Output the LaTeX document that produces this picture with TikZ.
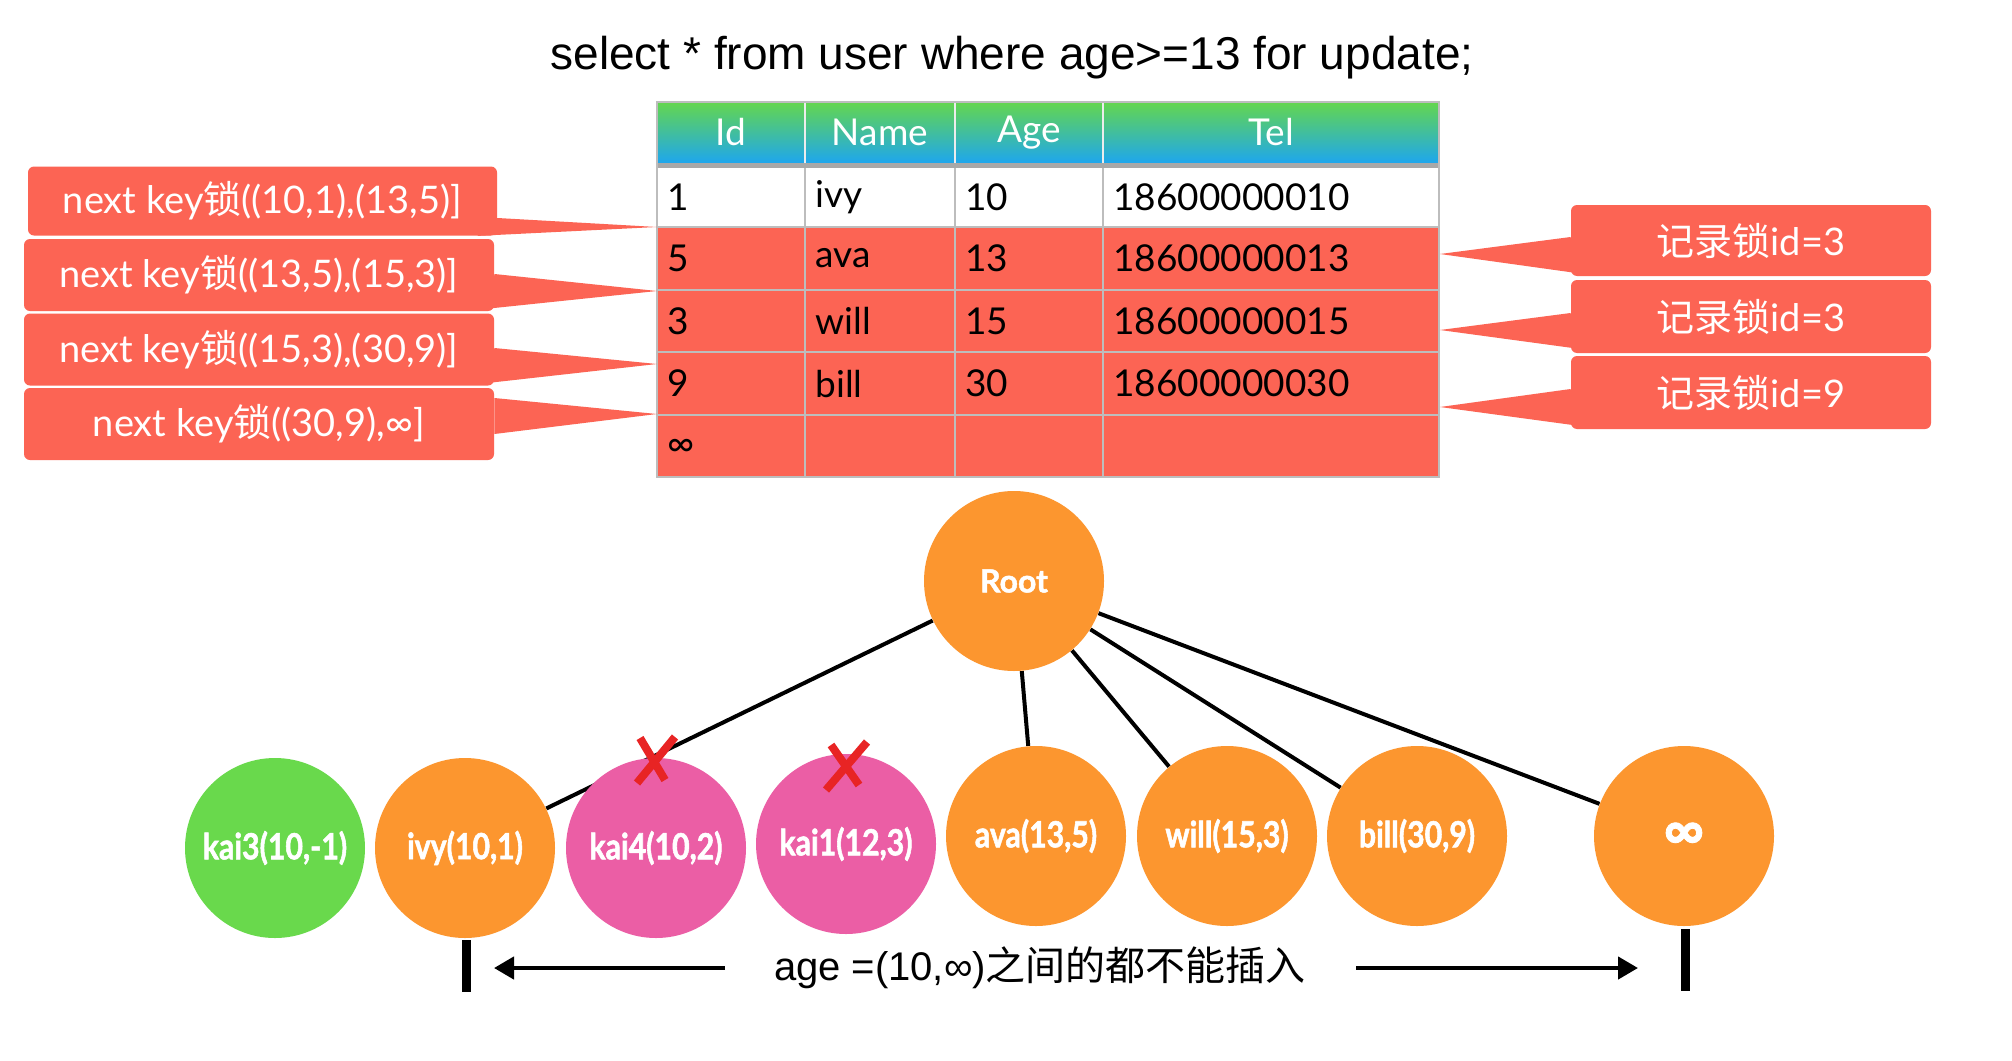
\documentclass[tikz,border=0pt]{standalone}
\usepackage{fontspec}
\usetikzlibrary{arrows.meta,calc}
\setmainfont{Lato}
\newfontfamily\lsans{Liberation Sans}
\newfontfamily\cjk{Noto Sans CJK SC}
\newfontfamily\condb{Lato}[FakeStretch=0.84, FakeBold=1.5]
\newfontfamily\heavyf{Lato}[FakeBold=1.5]
\definecolor{cred}{HTML}{FC6454}
\definecolor{hgreen}{HTML}{64D64E}
\definecolor{hblue}{HTML}{1EA6EE}
\definecolor{gridg}{HTML}{BDBDBD}
\definecolor{band}{HTML}{A8A8A8}
\definecolor{corange}{HTML}{FC962F}
\definecolor{cgreen}{HTML}{69D94C}
\definecolor{cpink}{HTML}{EB5EA5}
\definecolor{xred}{HTML}{E82424}
\pgfdeclarelayer{bg}
\pgfsetlayers{bg,main}
\tikzset{
  tcell/.style={anchor=west, inner sep=0pt, font=\fontsize{18.5pt}{20pt}\selectfont},
  thead/.style={inner sep=0pt, text=white, font=\fontsize{18.5pt}{20pt}\selectfont},
  calloutbox/.style={fill=cred, rounded corners=3pt, text=white, inner sep=0pt,
     font=\fontsize{19pt}{21pt}\selectfont},
  ball/.style={circle, minimum size=90pt, inner sep=0pt, text=white,
     font=\condb\bfseries\fontsize{18pt}{20pt}\selectfont},
  edgeline/.style={line width=2pt, black},
  xmark/.style={draw=xred, line width=4pt},
  barmark/.style={fill=black, inner sep=0pt, minimum width=4.5pt},
  arrowline/.style={line width=2.2pt, -{Triangle[length=10pt,width=11pt]}},
}
\begin{document}
\begin{tikzpicture}[x=0.5pt,y=-0.5pt]
\begin{pgfonlayer}{bg}
\fill[white] (0,0) rectangle (2012,1060);
\end{pgfonlayer}
\useasboundingbox (0,0) rectangle (2012,1060);

% title
\node[font=\lsans\fontsize{23pt}{26pt}\selectfont, inner sep=0pt] (title) at (1012,58)
  {select * from user where age>=13 for update;};

% ---- table ----
\shade[top color=hgreen, bottom color=hblue] (657,102) rectangle (1439,163);
\fill[band] (657,163) rectangle (1439,168);
\fill[white] (657,168) rectangle (1439,227);
\fill[cred] (657,227) rectangle (1439,477);
\foreach \x in {805,955,1103} {
  \draw[white!85!gray, line width=0.6pt] (\x,102) -- (\x,163);
  \draw[gridg, line width=0.8pt] (\x,168) -- (\x,477);
}
\foreach \y in {227,290,352,415} \draw[gridg, line width=0.8pt] (657,\y) -- (1439,\y);
\draw[gridg, line width=0.8pt] (657,102) rectangle (1439,477);

\node[thead] (hId) at (731,132.5) {Id};
\node[thead] (hName) at (880,132.5) {Name};
\node[thead] (hAge) at (1029,132.5) {Age};
\node[thead] (hTel) at (1271,132.5) {Tel};

\node[tcell] (c11) at (667,197.5) {1};
\node[tcell] (c12) at (815,197.5) {ivy};
\node[tcell] (c13) at (965,197.5) {10};
\node[tcell] (c14) at (1113,197.5) {18600000010};
\node[tcell] (c21) at (667,258.5) {5};
\node[tcell] (c22) at (815,258.5) {ava};
\node[tcell] (c23) at (965,258.5) {13};
\node[tcell] (c24) at (1113,258.5) {18600000013};
\node[tcell] (c31) at (667,321) {3};
\node[tcell] (c32) at (815,321) {will};
\node[tcell] (c33) at (965,321) {15};
\node[tcell] (c34) at (1113,321) {18600000015};
\node[tcell] (c41) at (667,383.5) {9};
\node[tcell] (c42) at (815,383.5) {bill};
\node[tcell] (c43) at (965,383.5) {30};
\node[tcell] (c44) at (1113,383.5) {18600000030};
\node[tcell] (c51) at (667,448) {∞};

% ---- left callouts ----
\node[calloutbox, minimum width=234.5pt, minimum height=34.5pt] (L1) at (262.5,201)
  {next key{\cjk 锁}((10,1),(13,5)]};
\node[calloutbox, minimum width=235pt, minimum height=36pt] (L2) at (259,275)
  {next key{\cjk 锁}((13,5),(15,3)]};
\node[calloutbox, minimum width=235pt, minimum height=36pt] (L3) at (259,349.5)
  {next key{\cjk 锁}((15,3),(30,9)]};
\node[calloutbox, minimum width=235pt, minimum height=36pt] (L4) at (259,424)
  {next key{\cjk 锁}((30,9),∞]};
\coordinate (tL1) at (657,227);
\coordinate (tL2) at (657,291);
\coordinate (tL3) at (657,364);
\coordinate (tL4) at (657,414);
\fill[cred] ($(L1.east)+(0,17)$) -- (tL1) -- ($(L1.south east)+(-20,0)$) -- cycle;
\fill[cred] ($(L2.east)+(0,-1)$) -- (tL2) -- ($(L2.south east)+(-4,-3)$) -- cycle;
\fill[cred] ($(L3.east)+(0,-1.5)$) -- (tL3) -- ($(L3.south east)+(-6,-3)$) -- cycle;
\fill[cred] ($(L4.east)+(0,-26)$) -- (tL4) -- ($(L4.east)+(0,10)$) -- cycle;

% ---- right callouts ----
\node[calloutbox, minimum width=180pt, minimum height=35.5pt] (R1) at (1751,240.5)
  {{\cjk 记录锁}id=3};
\node[calloutbox, minimum width=180pt, minimum height=36.5pt] (R2) at (1751,316.5)
  {{\cjk 记录锁}id=3};
\node[calloutbox, minimum width=180pt, minimum height=36.5pt] (R3) at (1751,392.5)
  {{\cjk 记录锁}id=9};
\coordinate (tR1) at (1440,254);
\coordinate (tR2) at (1440,330);
\coordinate (tR3) at (1440,407);
\fill[cred] ($(R1.west)+(0,-3.5)$) -- (tR1) -- ($(R1.south west)+(5,-3.5)$) -- cycle;
\fill[cred] ($(R2.west)+(0,-3.5)$) -- (tR2) -- ($(R2.south west)+(5,-5)$) -- cycle;
\fill[cred] ($(R3.west)+(0,-3.5)$) -- (tR3) -- ($(R3.south west)+(5,-4)$) -- cycle;

% ---- tree ----
\node[ball, fill=corange, font=\heavyf\bfseries\fontsize{16pt}{18pt}\selectfont] (root) at (1014,581) {Root};
\node[ball, fill=cgreen] (kai3) at (275,848) {kai3(10,-1)};
\node[ball, fill=corange] (ivy) at (465,848) {ivy(10,1)};
\node[ball, fill=cpink] (kai4) at (656,848) {kai4(10,2)};
\node[ball, fill=cpink] (kai1) at (846,844) {kai1(12,3)};
\node[ball, fill=corange] (ava) at (1036,836) {ava(13,5)};
\node[ball, fill=corange] (will) at (1227,836) {will(15,3)};
\node[ball, fill=corange] (bill) at (1417,836) {bill(30,9)};
\node[ball, fill=corange, font=\heavyf\bfseries\fontsize{28pt}{28pt}\selectfont] (inf) at (1684,836) {∞};

\begin{pgfonlayer}{bg}
\draw[edgeline] (root) -- (ivy);
\draw[edgeline] (root) -- (ava);
\draw[edgeline] (root) -- (will);
\draw[edgeline] (root) -- (bill);
\draw[edgeline] (root) -- (inf);
\end{pgfonlayer}

% red crosses
\draw[xmark] (640,738) -- (665,780);
\draw[xmark] (675,737) -- (637,783);
\draw[xmark] (831,745) -- (859,785);
\draw[xmark] (867,742) -- (826,790);

% ---- bottom ----
\node[barmark, minimum height=26pt] (barL) at (466,966) {};
\node[barmark, minimum height=31pt] (barR) at (1685,960) {};
\node[font=\lsans\fontsize{20pt}{22pt}\selectfont, inner sep=0pt] (note) at (1040,968)
  {age =(10,∞){\cjk 之间的都不能插入}};
\coordinate (aL1) at (725,968);
\coordinate (aL2) at (494,968);
\coordinate (aR1) at (1356,968);
\coordinate (aR2) at (1638,968);
\draw[arrowline] (aL1) -- (aL2);
\draw[arrowline] (aR1) -- (aR2);
\end{tikzpicture}
\end{document}
